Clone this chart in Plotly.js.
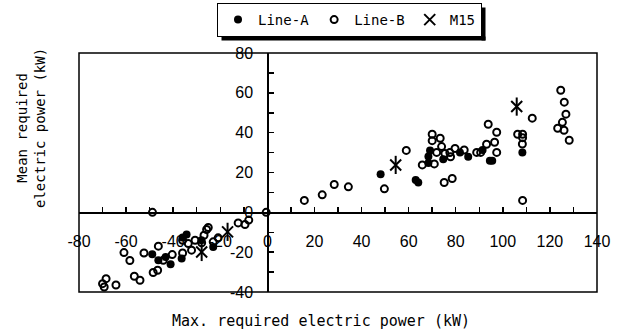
<!DOCTYPE html>
<html><head><meta charset="utf-8">
<script src="https://cdn.plot.ly/plotly-3.0.1.min.js"></script>
<style>body{margin:0;background:#fff}#chart{width:621px;height:333px}</style>
</head><body><div id="chart"></div><script>
// Line-A (filled circles)
const lineA_x = [-34.3, -36, -48.9, -46.3, -43.2, -41.1, -36.4, -23, -28, 48.1, 63, 64.1, 69.1, 68.4, 68.4, 74.7, 81.8, 85.3, 91.4, 94.5, 95.5, 108.3];
const lineA_y = [-11.1, -12.6, -21, -24.1, -22.4, -26.1, -23.2, -17.4, -14, 19.1, 16.2, 15, 31, 28, 24.8, 26.6, 30.1, 27.9, 31.3, 25.9, 25.9, 30.1];
// Line-B (open circles)
const lineB_x = [-48.8, -12.4, -9.5, -7.9, -25.8, -25.1, -26.9, -30.7, -27.9, -36, -33.6, -32.2, -36, -20.9, -23, -40.4, -44.2, -46.3, -52.4, -60.9, -58.4, -48.5, -46.6, -56.5, -54.1, -64.3, -68.5, -70, -69.3, -0.5,
  15.7, 23.3, 28.4, 34.4, 49.7, 59, 65.8, 70, 70, 73.4, 74, 71.9, 75.4, 77.5, 79.7, 77.8, 70.9, 75.1, 78.5, 83.6, 88.9, 90.6, 93.1, 93.8, 96.5, 97.4, 97.4, 106.3, 108.4, 108.4, 108.3, 108.4, 112.5, 123.3, 124.6, 126.1, 126.8, 125.3, 126, 128.2];
const lineB_y = [0, -5.3, -6.1, -3.9, -8.6, -7.6, -11.5, -14, -15.3, -14, -15.7, -19, -20.4, -12.8, -14.8, -21.2, -24.1, -17, -20.4, -20.2, -24.2, -30.2, -29.1, -32.1, -34.1, -36.5, -33.3, -35.8, -37.5, 0,
  6, 8.8, 14, 12.8, 11.8, 31.1, 23.8, 39.2, 36, 37.2, 33, 30.1, 29.6, 30, 32.1, 27.9, 24.3, 15, 17, 31.3, 30.1, 30.1, 34.2, 44.2, 35.2, 40.2, 30.1, 39.2, 39.2, 37.5, 34.3, 6, 47.3, 42.2, 61.3, 55.3, 49.3, 45.2, 41.2, 36.2];
// M15
const m15_x = [-16.9, -27.9, 54.5, 105.9];
const m15_y = [-9.8, -19.9, 23.8, 53.1];

const xTickVals = [-80, -60, -40, -20, 0, 20, 40, 60, 80, 100, 120, 140];
const xTickText = ['-80', '-60', '-40', '-20', '0', '20', '40', '60', '80', '100', '120', '140'];
const yTickVals = [-40, -20, 0, 20, 40, 60, 80];
const yTickText = ['-40', '-20', '0', '20', '40', '60', '80'];

const mono = 'DejaVu Sans Mono, monospace';
const traces = [
  {x: lineA_x, y: lineA_y, name: 'Line-A', type: 'scatter', mode: 'markers',
   marker: {symbol: 'circle', size: 8, color: '#000'}},
  {x: lineB_x, y: lineB_y, name: 'Line-B', type: 'scatter', mode: 'markers',
   marker: {symbol: 'circle-open', size: 7, color: '#000', line: {width: 2, color: '#000'}}},
  {x: m15_x, y: m15_y, name: 'M15', type: 'scatter', mode: 'markers',
   marker: {symbol: 'x-thin-open', size: 11, color: '#000', line: {width: 2, color: '#000'}}},
  {x: m15_x, y: m15_y, name: 'M15', type: 'scatter', mode: 'markers', showlegend: false,
   marker: {symbol: 'line-ns-open', size: 13, color: '#000', line: {width: 2, color: '#000'}}}
];

const axisCommon = {
  showgrid: false, zeroline: false, showline: true, linecolor: '#000', linewidth: 1.5,
  ticks: 'inside', ticklen: 5, tickwidth: 1.5, tickcolor: '#000',
  tickfont: {family: 'Liberation Sans, Arial', size: 16, color: '#000'},
  minor: {dtick: 10, ticks: 'inside', ticklen: 5, tickwidth: 1.5, tickcolor: '#000', showgrid: false},
  fixedrange: true, automargin: false
};

// paper-coordinate helpers for the plot area (l=79, r=24, t=53, b=41 on 621x333)
const px2x = p => (p - 79) / 518;
const py2y = p => (292 - p) / 239;

const frameShape = {type: 'rect', xref: 'paper', yref: 'paper', x0: 0, x1: 1, y0: 0, y1: 1,
  line: {color: '#000', width: 1.5}};

const layout = {
  width: 621, height: 333,
  margin: {l: 79, r: 24, t: 53, b: 41, autoexpand: false},
  paper_bgcolor: '#fff', plot_bgcolor: '#fff',
  showlegend: true,
  xaxis: Object.assign({}, axisCommon, {range: [-80, 140], anchor: 'free', position: 1/3,
    tickmode: 'array', tickvals: xTickVals, ticktext: xTickText, ticklabelstandoff: 14}),
  yaxis: Object.assign({}, axisCommon, {range: [-40, 80], anchor: 'free', position: 80/220,
    tickmode: 'array', tickvals: yTickVals, ticktext: yTickText, ticklabelstandoff: 11}),
  legend: {orientation: 'h', x: px2x(349.5), xanchor: 'center',
    y: py2y(3), yanchor: 'top',
    bordercolor: '#000', borderwidth: 1, bgcolor: '#fff',
    font: {family: mono, size: 14, color: '#000'}, itemwidth: 30},
  shapes: [frameShape],
  annotations: [
    {text: 'Max. required electric power (kW)', xref: 'paper', yref: 'paper', x: 0.467, y: py2y(321),
     xanchor: 'center', yanchor: 'middle', showarrow: false, font: {family: mono, size: 15, color: '#000'}},
    {text: 'Mean required<br>electric power (kW)', xref: 'paper', yref: 'paper', x: px2x(31), y: py2y(128),
     xanchor: 'center', yanchor: 'middle', textangle: -90, showarrow: false,
     font: {family: mono, size: 14, color: '#000'}}
  ]
};

Plotly.newPlot('chart', traces, layout, {displayModeBar: false, staticPlot: true}).then(gd => {
  // add a drop shadow to the legend box, placed from the measured legend frame
  const bg = gd.querySelector('.legend .bg');
  if (!bg) return;
  const r = bg.getBoundingClientRect();
  const c = gd.getBoundingClientRect();
  const L = r.left - c.left, R = r.right - c.left, T = r.top - c.top, B = r.bottom - c.top;
  const s = 4;
  const shadow = (x0, x1, y0, y1) => ({type: 'rect', xref: 'paper', yref: 'paper', layer: 'above',
    x0: px2x(x0), x1: px2x(x1), y0: py2y(y1), y1: py2y(y0), fillcolor: '#000', line: {width: 0}});
  return Plotly.relayout(gd, {shapes: [frameShape,
    shadow(L + s, R + s, B, B + s),
    shadow(R, R + s, T + s, B + s)]});
});
</script></body></html>
